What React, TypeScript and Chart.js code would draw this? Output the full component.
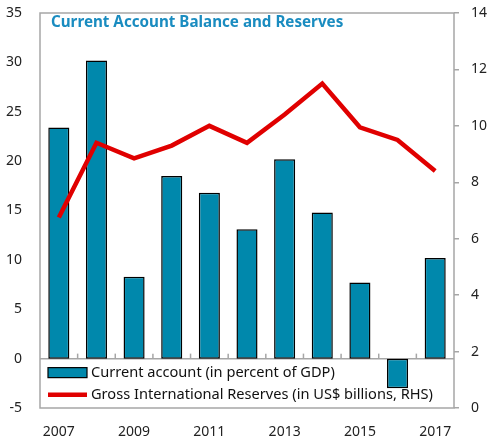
import React, { useEffect, useRef } from "react";
import { Chart, registerables } from "chart.js";

Chart.register(...registerables);

const years = ["2007", "2008", "2009", "2010", "2011", "2012", "2013", "2014", "2015", "2016", "2017"];
const currentAccount = [23.4, 30.2, 8.3, 18.5, 16.8, 13.1, 20.2, 14.8, 7.7, -3.0, 10.2];
const reserves = [6.75, 9.4, 8.85, 9.3, 10.0, 9.4, 10.4, 11.5, 9.95, 9.5, 8.4];
const titleText = "Current Account Balance and Reserves";
const legendLabels = ["Current account (in percent of GDP)", "Gross International Reserves (in US$ billions, RHS)"];

const BAR_COLOR = "#0088AC";
const LINE_COLOR = "#E00000";
const TITLE_COLOR = "#1A8CC0";
const FRAME_COLOR = "#A6A6A6";
const FONT = "'Noto Sans', sans-serif";

const overlay = {
  id: "overlay",
  beforeDatasetsDraw(chart: any) {
    const { ctx, chartArea: a, scales } = chart;
    const y0 = scales.y.getPixelForValue(0);
    ctx.save();
    ctx.fillStyle = "#ffffff";
    ctx.fillRect(a.left, y0, a.right - a.left, a.bottom - y0);
    ctx.strokeStyle = FRAME_COLOR;
    ctx.lineWidth = 1.5;
    ctx.strokeRect(a.left, a.top, a.right - a.left, a.bottom - a.top);
    ctx.beginPath();
    ctx.moveTo(a.left, y0);
    ctx.lineTo(a.right, y0);
    ctx.stroke();
    for (let i = 1; i < years.length; i++) {
      const x = (scales.x.getPixelForValue(i - 1) + scales.x.getPixelForValue(i)) / 2;
      ctx.beginPath();
      ctx.moveTo(x, y0);
      ctx.lineTo(x, y0 - 5);
      ctx.stroke();
    }
    const sx = a.left + 8;
    const sw = 39;
    const row1 = y0 + 14;
    const row2 = y0 + 36;
    ctx.fillStyle = BAR_COLOR;
    ctx.fillRect(sx, row1 - 5, sw, 10);
    ctx.strokeStyle = "#000";
    ctx.lineWidth = 1.2;
    ctx.strokeRect(sx, row1 - 5, sw, 10);
    ctx.strokeStyle = LINE_COLOR;
    ctx.lineWidth = 4.5;
    ctx.beginPath();
    ctx.moveTo(sx, row2);
    ctx.lineTo(sx + sw, row2);
    ctx.stroke();
    ctx.fillStyle = "#111";
    ctx.font = `14.6px ${FONT}`;
    ctx.textBaseline = "middle";
    ctx.textAlign = "left";
    ctx.fillText(legendLabels[0], sx + sw + 4, row1);
    ctx.fillText(legendLabels[1], sx + sw + 4, row2);
    ctx.fillStyle = TITLE_COLOR;
    ctx.font = `bold 15.2px ${FONT}`;
    ctx.fillText(titleText, a.left + 11, a.top + 10);
    ctx.restore();
  },
};

export default function App() {
  const ref = useRef<HTMLCanvasElement>(null);
  useEffect(() => {
    document.body.style.margin = "0";
    const chart = new Chart(ref.current!, {
      type: "bar",
      data: {
        labels: years,
        datasets: [
          {
            type: "line",
            label: legendLabels[1],
            data: reserves,
            yAxisID: "y1",
            borderColor: LINE_COLOR,
            borderWidth: 4.5,
            pointRadius: 0,
            tension: 0,
            fill: false,
            order: 0,
          } as any,
          {
            type: "bar",
            label: legendLabels[0],
            data: currentAccount,
            yAxisID: "y",
            backgroundColor: BAR_COLOR,
            borderColor: "#000",
            borderWidth: 1.5,
            borderSkipped: false,
            categoryPercentage: 1,
            barPercentage: 0.56,
            order: 1,
          },
        ],
      },
      options: {
        responsive: false,
        animation: false,
        devicePixelRatio: 1,
        layout: { padding: { top: 13, left: 0, right: 0, bottom: 0 } },
        plugins: { legend: { display: false }, title: { display: false }, tooltip: { enabled: false } },
        scales: {
          x: {
            grid: { display: false },
            border: { display: false },
            ticks: {
              color: "#222",
              font: { family: "Noto Sans", size: 14 },
              maxRotation: 0,
              autoSkip: false,
              padding: 8,
              callback: (_v: any, i: number) => (i % 2 === 0 ? years[i] : ""),
            },
            afterFit: (s: any) => { s.height = 35; s.paddingLeft = 0; s.paddingRight = 0; },
          },
          y: {
            position: "left",
            min: -5,
            max: 35,
            ticks: { stepSize: 5, color: "#222", font: { family: "Noto Sans", size: 14 }, padding: 10 },
            grid: { display: false },
            border: { display: false },
            afterFit: (s: any) => { s.width = 40; s.paddingTop = 0; s.paddingBottom = 0; },
          },
          y1: {
            position: "right",
            min: 0,
            max: 14,
            ticks: { stepSize: 2, color: "#222", font: { family: "Noto Sans", size: 14 }, padding: 12 },
            grid: { display: true, drawOnChartArea: false, drawTicks: true, tickLength: 5, color: FRAME_COLOR, lineWidth: 1.5 },
            border: { display: false },
            afterFit: (s: any) => { s.width = 35; s.paddingTop = 0; s.paddingBottom = 0; },
          },
        },
      },
      plugins: [overlay],
    });
    return () => chart.destroy();
  }, []);
  return (
    <div style={{ position: "absolute", left: 0, top: 0, width: 489, height: 443 }}>
      <canvas ref={ref} width={489} height={443} />
    </div>
  );
}
